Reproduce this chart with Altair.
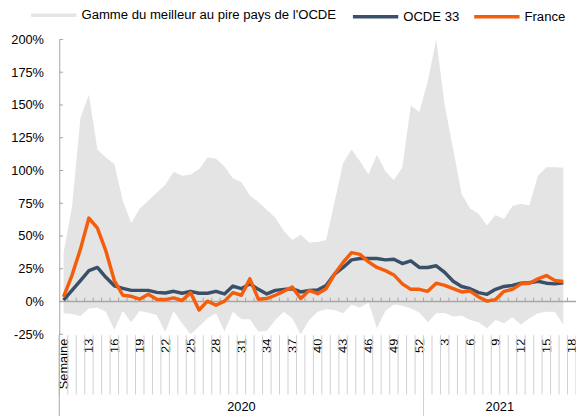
import json
import altair as alt
import pandas as pd

# ---------------- data ----------------
WEEKS_2020 = list(range(10, 53))   # 2020 weeks 10..52
WEEKS_2021 = list(range(1, 19))    # 2021 weeks 1..18 (week 18 without data)
YEARS = ["2020", "2021"]

OCDE = [1, 8.5, 16, 23.6, 26, 18.5, 12, 10, 8.5, 8.5,
        8.5, 7, 6.5, 7.8, 6.3, 7.8, 6.3, 6.3, 7.8, 5.8,
        11.8, 9.8, 13.5, 9.3, 5.8, 8.5, 9.3, 9.8, 7.3, 8.5,
        8.8, 12.3, 21, 26, 31.8, 32.8, 32.8, 32.8, 31.8, 32.3,
        29, 31, 26, 26, 27.3, 22.3, 15.5, 11.5, 9.8, 6.8,
        5.5, 9.3, 11.5, 12.3, 14, 14.3, 15.5, 14, 13.5, 14.3]

FRANCE = [3.5, 20, 40, 63.7, 56, 38.6, 16, 4.8, 4, 1.8,
          5.5, 1.8, 1.5, 2.8, 0.8, 6.8, -6.5, 0.3, -2.8, 0.3,
          6.8, 4.8, 17.3, 1.8, 2.3, 4.8, 7.8, 11, 2.3, 8.5,
          6, 9.8, 21, 29.8, 37.3, 36, 30.3, 26, 23.6, 20.3,
          13.5, 9.3, 9.3, 7.8, 14, 12.3, 9.8, 7.3, 8, 3.5,
          0.3, 1.5, 7.8, 9.3, 13.5, 14, 17.3, 19.8, 16, 15.3]

RANGE_HIGH = [37, 72, 140, 158, 116, 110, 105, 77, 60, 71,
              77, 83, 89, 99, 96, 97, 101, 110, 109, 103,
              94, 91, 81, 76, 70, 64, 54, 47, 51, 45,
              45.5, 47, 76, 105.5, 116, 107, 97, 112, 99.5, 92.5,
              102.5, 149.6, 144.6, 168, 200, 150, 116, 82, 71, 67,
              58, 66, 63, 73, 74.4, 73.4, 96, 102.5, 102.5, 102]

RANGE_LOW = [-9, -9.5, -11, -5.3, -4.8, -7.8, -21.6, -7.3, -15.8, -7.3,
             -8.5, -10.3, -23.3, -7.3, -16.5, -25, -19, -12.8, -9, -22.8,
             -7.8, -13.5, -13.5, -22.8, -22.3, -14, -7.8, -12.8, -25, -14,
             -7.8, -5.8, -6.5, -9, -2.3, -4.8, -0.8, -20.3, -7.3, -2.3,
             -3.3, -5.3, -8.3, -15.8, -9, -8.8, -11.5, -10.8, -14, -15.8,
             -20.3, -14, -16.5, -12, -17.8, -12.8, -9, -7.8, -7.8, -17.8]

SERIES = ["Gamme du meilleur au pire pays de l'OCDE", "OCDE 33", "France"]
COLORS = ["#e4e4e4", "#3a4f68", "#f45d0c"]
Y_TICKS = [-25, 0, 25, 50, 75, 100, 125, 150, 175, 200]

FONT = "Liberation Sans, Arial, sans-serif"

# ---------------- derived tables ----------------
n_cat = len(WEEKS_2020) + len(WEEKS_2021)
week_labels = [str(w) for w in WEEKS_2020 + WEEKS_2021]
week_labels[0] = "Semaine"
tick_idx = list(range(0, n_cat, 3))
tick_text = [week_labels[i] for i in tick_idx]
label_expr = json.dumps(tick_text) + "[round(datum.value / 3)]"

n_data = len(OCDE)
df = pd.DataFrame({
    "idx": list(range(n_data)),
    "hi": RANGE_HIGH,
    "lo": RANGE_LOW,
    "series": [SERIES[0]] * n_data,
})
df_ocde = pd.DataFrame({"idx": list(range(n_data)), "value": OCDE,
                        "series": [SERIES[1]] * n_data})
df_fr = pd.DataFrame({"idx": list(range(n_data)), "value": FRANCE,
                      "series": [SERIES[2]] * n_data})
df_bounds = pd.DataFrame({"b": [k - 0.5 for k in range(n_cat + 1)]})
df_inner = pd.DataFrame({"b": [k + 0.5 for k in range(n_cat - 1)]})
df_yt = pd.DataFrame({"v": Y_TICKS})
df_zero = pd.DataFrame({"v": [0]})
n20 = len(WEEKS_2020)
df_years = pd.DataFrame({
    "year": YEARS,
    "mid": [(-0.5 + n20 - 0.5) / 2, (n20 - 0.5 + n_cat - 0.5) / 2],
})

W, H = 524, 299
GREY = "#a6a6a6"
LEG_FS = 13.3

x_scale = alt.Scale(domain=[-0.5, n_cat - 0.5], nice=False, zero=False)
y_scale = alt.Scale(domain=[-25, 200], nice=False, zero=False)

x_axis = alt.Axis(values=tick_idx, tickCount=200, labelExpr=label_expr,
                  labelAngle=270, labelAlign="right", labelBaseline="middle",
                  labelPadding=4, ticks=False, domain=False, grid=False,
                  title=None, labelFontSize=13, labelColor="#000",
                  labelOverlap=False, labelFlush=False)
y_axis = alt.Axis(values=Y_TICKS, tickCount=200, labelExpr="datum.value + '%'",
                  ticks=False, labelPadding=16, grid=False, title=None,
                  domainColor=GREY, domainWidth=1, labelFontSize=13,
                  labelColor="#000", labelOverlap=False, labelFlush=False)

leg_gamme = alt.Legend(title=None, orient="none", legendX=-28.5, legendY=-47.5,
                       direction="horizontal", padding=0,
                       symbolType="M-1,-0.075H1V0.075H-1Z", symbolSize=2116,
                       symbolStrokeWidth=0, labelOffset=5,
                       labelFontSize=LEG_FS, labelColor="#000", labelLimit=400)
leg_ocde = alt.Legend(title=None, orient="none", legendX=295.75, legendY=-48,
                      direction="horizontal", padding=0, symbolType="stroke",
                      symbolSize=2116, symbolStrokeWidth=3.5, labelOffset=3,
                      labelFontSize=LEG_FS, labelColor="#000", labelLimit=400)
leg_fr = alt.Legend(title=None, orient="none", legendX=418.75, legendY=-48,
                    direction="horizontal", padding=0, symbolType="stroke",
                    symbolSize=2116, symbolStrokeWidth=3.5, labelOffset=3,
                    labelFontSize=LEG_FS, labelColor="#000", labelLimit=400)

area = alt.Chart(df).mark_area(clip=True).encode(
    x=alt.X("idx:Q", scale=x_scale, axis=x_axis),
    y=alt.Y("hi:Q", scale=y_scale, axis=y_axis),
    y2="lo:Q",
    fill=alt.Fill("series:N", scale=alt.Scale(domain=[SERIES[0]], range=[COLORS[0]]),
                  legend=leg_gamme),
)

zero = alt.Chart(df_zero).mark_rule(color=GREY, strokeWidth=1.5).encode(
    y=alt.Y("v:Q"))

zero_ticks = alt.Chart(df_inner).mark_rule(color=GREY, strokeWidth=1).encode(
    x=alt.X("b:Q"), y=alt.datum(0), y2=alt.datum(3))

y_ticks = alt.Chart(df_yt).mark_rule(color=GREY, strokeWidth=1).encode(
    y=alt.Y("v:Q"), x=alt.datum(-0.5), x2=alt.datum(-0.05))

label_lines = alt.Chart(df_bounds).mark_rule(color="#cfcfcf", strokeWidth=1).encode(
    x=alt.X("b:Q"), y=alt.value(H + 1), y2=alt.value(H + 61))

left_sep = alt.Chart(df_zero).mark_rule(color=GREY, strokeWidth=1).encode(
    x=alt.datum(-0.5), y=alt.value(H), y2=alt.value(H + 83))

year_sep = alt.Chart(df_zero).mark_rule(color="#cfcfcf", strokeWidth=1).encode(
    x=alt.datum(n20 - 0.5), y=alt.value(H + 61), y2=alt.value(H + 83))

years = alt.Chart(df_years).mark_text(fontSize=13, baseline="middle",
                                       color="#000").encode(
    x=alt.X("mid:Q"), y=alt.value(H + 74), text="year:N")

line_ocde = alt.Chart(df_ocde).mark_line(strokeWidth=3.5, strokeJoin="round").encode(
    x=alt.X("idx:Q"), y=alt.Y("value:Q"),
    stroke=alt.Stroke("series:N",
                      scale=alt.Scale(domain=[SERIES[1]], range=[COLORS[1]]),
                      legend=leg_ocde))

line_fr = alt.Chart(df_fr).mark_line(strokeWidth=3.5, strokeJoin="round").encode(
    x=alt.X("idx:Q"), y=alt.Y("value:Q"),
    color=alt.Color("series:N",
                    scale=alt.Scale(domain=[SERIES[2]], range=[COLORS[2]]),
                    legend=leg_fr))

chart = alt.layer(
    area, label_lines, left_sep, year_sep, years, zero, zero_ticks, y_ticks,
    line_ocde, line_fr,
).properties(
    width=W, height=H,
    autosize=alt.AutoSizeParams(type="none"),
    padding={"left": 52, "top": 29, "right": 0, "bottom": 83},
).configure(font=FONT).configure_axis(labelOverlap=False).configure_view(stroke=None)

chart.save("out.html", embed_options={"renderer": "svg", "actions": False})
